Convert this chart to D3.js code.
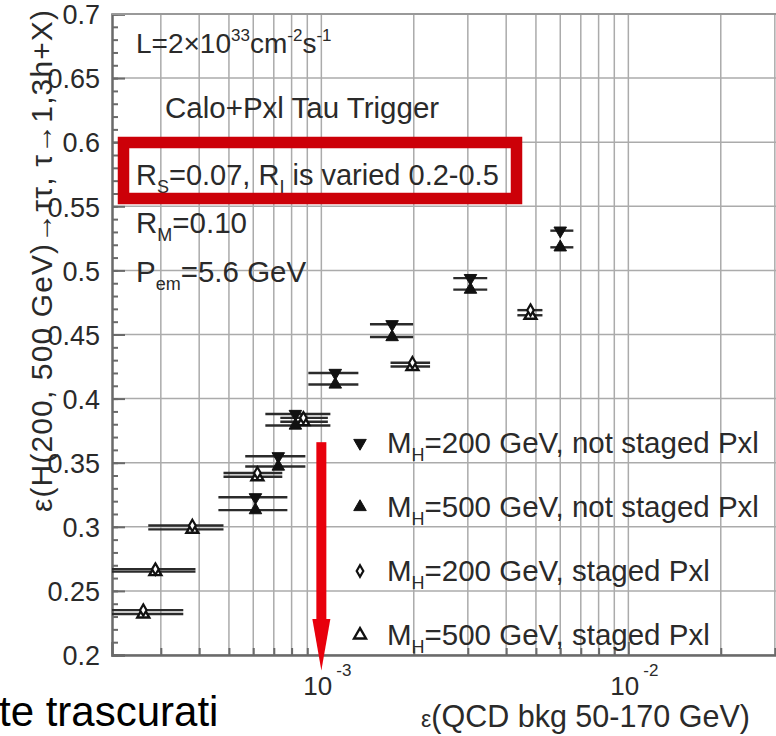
<!DOCTYPE html>
<html>
<head>
<meta charset="utf-8">
<script src="https://cdn.jsdelivr.net/npm/d3@7"></script>
<style>
  body { margin: 0; background: #fff; }
  text { font-family: "Liberation Sans", Arial, Helvetica, sans-serif; fill: #2a2a2a; }
</style>
</head>
<body>
<div id="chart"></div>
<script>
// Data
// not staged Pxl: both masses share the same bkg efficiency
var nsX   = [6.10e-4, 7.24e-4, 8.23e-4, 1.11e-3, 1.70e-3, 3.06e-3, 6.00e-3];
var nsXLo = [4.62e-4, 5.65e-4, 6.57e-4, 9.07e-4, 1.44e-3, 2.69e-3, 5.57e-3];
var nsXHi = [7.75e-4, 8.87e-4, 1.07e-3, 1.32e-3, 1.99e-3, 3.47e-3, 6.62e-3];
var mh200ns = [0.323, 0.355, 0.388, 0.420, 0.458, 0.494, 0.531];
var mh500ns = [0.313, 0.347, 0.379, 0.411, 0.448, 0.485, 0.518];

// staged Pxl
var stX   = [2.63e-4, 2.88e-4, 3.80e-4, 6.19e-4, 8.74e-4, 1.98e-3, 4.80e-3];
var stXLo = [1.90e-4, 1.90e-4, 2.73e-4, 4.80e-4, 7.35e-4, 1.68e-3, 4.35e-3];
var stXHi = [3.55e-4, 3.89e-4, 4.80e-4, 7.46e-4, 1.05e-3, 2.26e-3, 5.25e-3];
var mh200st = [0.235, 0.267, 0.301, 0.342, 0.385, 0.428, 0.469];
var mh500st = [0.232, 0.265, 0.298, 0.339, 0.382, 0.425, 0.465];

var yMajor = [0.2, 0.25, 0.3, 0.35, 0.4, 0.45, 0.5, 0.55, 0.6, 0.65, 0.7];
var xDecades = [1e-3, 1e-2];
var xDecadeExp = ['-3', '-2'];

var legendLabels = [
    ['M', 'H', '=200 GeV, not staged Pxl'],
    ['M', 'H', '=500 GeV, not staged Pxl'],
    ['M', 'H', '=200 GeV, staged Pxl'],
    ['M', 'H', '=500 GeV, staged Pxl']
];

// Base chart space
var width = 776, height = 736;
var plot = {left: 112, top: 14, bottom: 655};
var xMin = 2.08e-4, xMax = 0.04, pxPerDecade = 307;

var svg = d3.select('#chart').append('svg')
    .attr('width', width)
    .attr('height', height);

var x = d3.scaleLog()
    .domain([xMin, xMax])
    .range([plot.left, plot.left + Math.log10(xMax / xMin) * pxPerDecade]);
var y = d3.scaleLinear()
    .domain([0.2, 0.7])
    .range([plot.bottom, plot.top]);

svg.append('clipPath').attr('id', 'clip')
    .append('rect')
    .attr('x', plot.left).attr('y', plot.top)
    .attr('width', width - plot.left).attr('height', plot.bottom - plot.top);

// Grid
var grid = svg.append('g').attr('clip-path', 'url(#clip)');
grid.selectAll('.vg')
    .data(x.ticks())
    .enter().append('line')
    .attr('x1', function(d) { return x(d); })
    .attr('x2', function(d) { return x(d); })
    .attr('y1', plot.top).attr('y2', plot.bottom)
    .style('stroke', '#ababab').style('stroke-width', 1.5);
grid.selectAll('.hg')
    .data(yMajor)
    .enter().append('line')
    .attr('x1', plot.left).attr('x2', width)
    .attr('y1', function(d) { return y(d); })
    .attr('y2', function(d) { return y(d); })
    .style('stroke', '#ababab').style('stroke-width', 1.5);

// Axes
var axisColor = '#6a6a6a';
var yAxis = svg.append('g')
    .attr('transform', 'translate(' + plot.left + ',0)')
    .call(d3.axisLeft(y).tickValues(yMajor).tickSize(-13).tickPadding(12)
        .tickFormat(d3.format('')));
svg.append('g')
    .attr('transform', 'translate(' + plot.left + ',0)')
    .call(d3.axisLeft(y).ticks(50).tickSize(-6).tickFormat(''))
    .select('.domain').remove();
yAxis.selectAll('text')
    .attr('dy', '0.36em')
    .style('font-size', '27px');

var xAxis = svg.append('g')
    .attr('transform', 'translate(0,' + plot.bottom + ')')
    .call(d3.axisBottom(x).tickValues(xDecades).tickSize(-13).tickFormat(''));
svg.append('g')
    .attr('transform', 'translate(0,' + plot.bottom + ')')
    .call(d3.axisBottom(x).tickValues(x.ticks().filter(function(d) {
        return xDecades.indexOf(d) < 0; })).tickSize(-7).tickFormat(''))
    .select('.domain').remove();
svg.selectAll('.domain').style('stroke', axisColor).style('stroke-width', 2.5);
svg.selectAll('.tick line').style('stroke', axisColor).style('stroke-width', 2);
svg.append('line')
    .attr('x1', plot.left).attr('x2', width)
    .attr('y1', plot.top).attr('y2', plot.top)
    .style('stroke', '#999').style('stroke-width', 2);

// decade labels 10^n
xDecades.forEach(function(d, i) {
    var t = svg.append('text')
        .attr('x', x(d) - 18).attr('y', 695)
        .style('font-size', '26px');
    t.append('tspan').text('10');
    t.append('tspan').attr('dx', 4).attr('dy', -19).style('font-size', '17px').text(xDecadeExp[i]);
});

// Axis titles
var xt = svg.append('text').attr('x', 421).attr('y', 727).style('font-size', '30.5px');
xt.append('tspan').style('font-size', '23px').text('\u03b5');
xt.append('tspan').text('(QCD bkg 50-170 GeV)');

svg.append('text')
    .attr('transform', 'translate(52,512)rotate(-90)')
    .style('font-size', '30px')
    .attr('textLength', 502)
    .attr('lengthAdjust', 'spacing')
    .text('\u03b5(H(200, 500 GeV)\u2192\u03c4\u03c4, \u03c4\u21921,3h+X)');

// Annotations
function richText(xp, yp, parts, size) {
    var t = svg.append('text').attr('x', xp).attr('y', yp).style('font-size', size + 'px');
    var shift = 0;
    parts.forEach(function(p) {
        var target = p[1] == 'sup' ? -12 : p[1] == 'sub' ? 8 : 0;
        t.append('tspan')
            .attr('dy', target - shift)
            .style('font-size', p[1] == 'n' ? size + 'px' : Math.round(size * 0.62) + 'px')
            .text(p[0]);
        shift = target;
    });
    return t;
}
richText(136, 53, [['L=2\u00d710', 'n'], ['33', 'sup'], ['cm', 'n'], ['-2', 'sup'], ['s', 'n'], ['-1', 'sup']], 28);
richText(165, 118, [['Calo+Pxl Tau Trigger', 'n']], 29.5);
richText(136, 185, [['R', 'n'], ['S', 'sub'], ['=0.07, R', 'n'], ['I', 'sub'], [' is varied 0.2-0.5', 'n']], 29);
richText(136, 233, [['R', 'n'], ['M', 'sub'], ['=0.10', 'n']], 29.5);
richText(136, 282, [['P', 'n'], ['em', 'sub'], ['=5.6 GeV', 'n']], 29.5);

// Red box around the R_S line
svg.append('rect')
    .attr('x', 123.5).attr('y', 142.5)
    .attr('width', 393).attr('height', 56)
    .style('fill', 'none').style('stroke', '#cc0008').style('stroke-width', 11.5);

// Plot
var marks = svg.append('g').attr('clip-path', 'url(#clip)');
var barColor = '#2b2b2b';

function errBars(xs, lo, hi, ys) {
    marks.selectAll(null)
        .data(xs)
        .enter().append('line')
        .attr('x1', function(d, i) { return x(lo[i]); })
        .attr('x2', function(d, i) { return x(hi[i]); })
        .attr('y1', function(d, i) { return y(ys[i]); })
        .attr('y2', function(d, i) { return y(ys[i]); })
        .style('stroke', barColor).style('stroke-width', 2.4);
}
errBars(nsX, nsXLo, nsXHi, mh200ns);
errBars(nsX, nsXLo, nsXHi, mh500ns);
errBars(stX, stXLo, stXHi, mh200st);
errBars(stX, stXLo, stXHi, mh500st);

var triFill = d3.symbol().type(d3.symbolTriangle).size(68);
var triOpen = d3.symbol().type(d3.symbolTriangle).size(62);
var diam = d3.symbol().type(d3.symbolDiamond).size(38);

function markers(xs, ys, path, rot, fill, sw) {
    marks.selectAll(null)
        .data(xs)
        .enter().append('path')
        .attr('d', path)
        .attr('transform', function(d, i) {
            return 'translate(' + x(d) + ',' + y(ys[i]) + ')rotate(' + rot + ')'; })
        .style('fill', fill)
        .style('stroke', '#111')
        .style('stroke-width', sw);
}
markers(stX, mh500st, triOpen, 0, '#fff', 2.4);
markers(stX, mh200st, diam, 0, '#fff', 2.2);
markers(nsX, mh200ns, triFill, 180, '#111', 1);
markers(nsX, mh500ns, triFill, 0, '#111', 1);

// Legend
var legX = 360, legY = 443, legStep = 64;
var legShapes = [[triFill, 180, '#111', 1], [triFill, 0, '#111', 1],
                 [diam, 0, '#fff', 2.2], [triOpen, 0, '#fff', 2.4]];
legendLabels.forEach(function(l, i) {
    var s = legShapes[i];
    svg.append('path')
        .attr('d', s[0])
        .attr('transform', 'translate(' + legX + ',' + (legY + i * legStep) + ')rotate(' + s[1] + ')')
        .style('fill', s[2]).style('stroke', '#111').style('stroke-width', s[3]);
    richText(387, legY + i * legStep + 10, [[l[0], 'n'], [l[1], 'sub'], [l[2], 'n']], 29.5);
});

// Red arrow pointing at 10^-3
var ax = x(1e-3);
svg.append('rect')
    .attr('x', ax - 5).attr('y', y(0.366))
    .attr('width', 10).attr('height', y(0.225) - y(0.366))
    .style('fill', '#e8000c');
svg.append('path')
    .attr('d', 'M' + (ax - 9) + ',' + y(0.228) + 'L' + (ax + 9) + ',' + y(0.228) +
        'L' + ax + ',' + y(0.188) + 'Z')
    .style('fill', '#e8000c');

// cropped caption from the slide
svg.append('text')
    .attr('x', -1).attr('y', 726)
    .style('font-size', '42px')
    .style('fill', '#000')
    .text('te trascurati');
</script>
</body>
</html>
